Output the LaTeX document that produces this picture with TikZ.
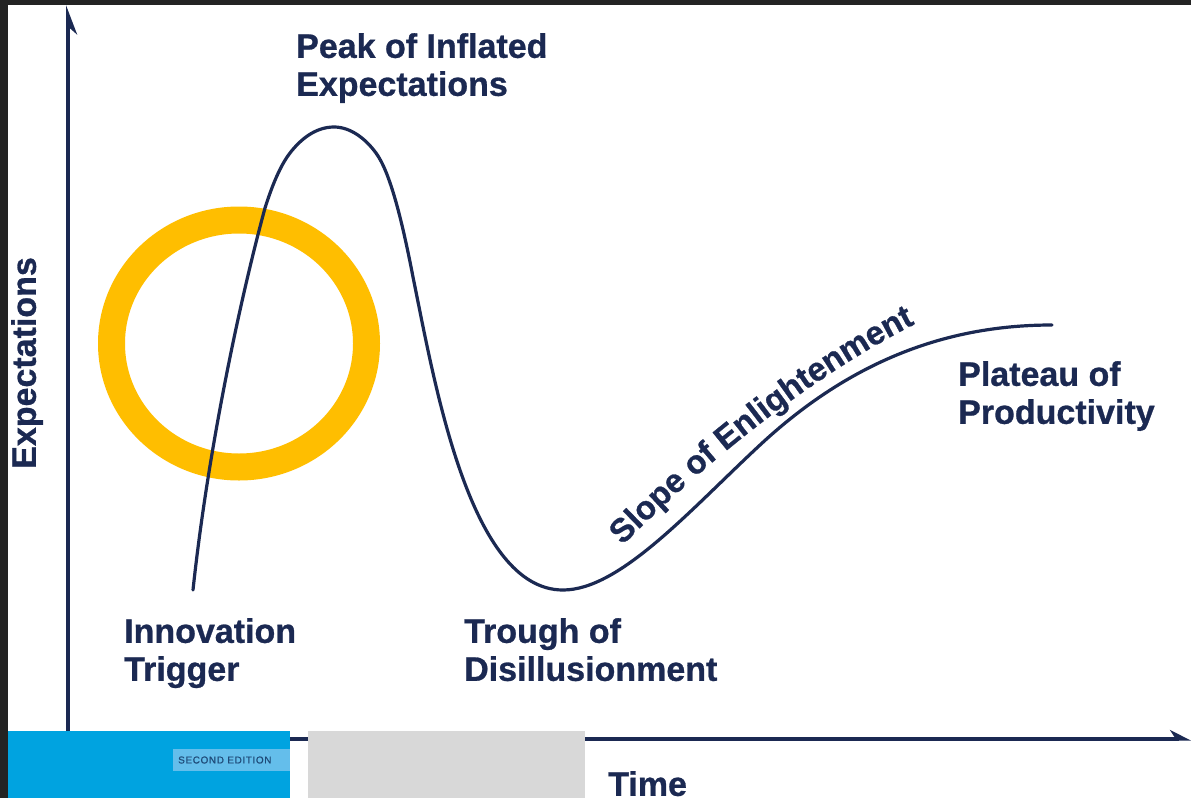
\documentclass[tikz,border=0pt]{standalone}
\usepackage{fontspec}
\setmainfont{Liberation Sans}
\newfontfamily\hypefont[FakeBold=0.8]{Liberation Sans}
\usepackage{xcolor}
\usetikzlibrary{arrows.meta,decorations.text}

\definecolor{hypenavy}{RGB}{27,41,82}
\definecolor{ringgold}{RGB}{255,190,0}
\definecolor{framedark}{RGB}{35,35,35}
\definecolor{coverblue}{RGB}{0,163,224}
\definecolor{editionblue}{RGB}{100,190,235}
\definecolor{editiontext}{RGB}{30,74,120}
\definecolor{covergrey}{RGB}{216,216,216}

\begin{document}
\begin{tikzpicture}[x=1pt,y=-1pt,
    phase/.style={inner sep=0pt, anchor=north west, align=left, text=hypenavy,
      font=\hypefont\bfseries\fontsize{34}{38}\selectfont},
    axis/.style={hypenavy, line width=4pt},
    hype/.style={hypenavy, line width=3.2pt, line cap=round}]
  \useasboundingbox (0,0) rectangle (1191,798);
  \fill[white] (0,0) rectangle (1191,798);
  % dark frame of the screenshot
  \fill[framedark] (0,0) rectangle (1191,5);
  \fill[framedark] (0,0) rectangle (8,798);

  % highlight ring
  \draw[ringgold, line width=27pt] (239,343.5) ellipse [x radius=127.5, y radius=123.5];

  % axes
  \coordinate (origin) at (68,739);
  \coordinate (ytop) at (68,5);
  \coordinate (xend) at (1191,739);
  \draw[axis, -{Stealth[right,length=24pt,width=18pt]}] (origin) -- (ytop);
  \draw[axis, -{Stealth[left,length=18pt,width=18pt]}] (origin) -- (xend);

  % covers at the bottom
  \fill[coverblue] (8,731) rectangle (290,798);
  \fill[editionblue] (173,749) rectangle (290,771);
  \node[inner sep=0pt, anchor=west, text=editiontext,
    font=\hypefont\fontsize{10}{10}\selectfont\addfontfeature{LetterSpace=6}]
    (edition) at (178,760) {SECOND EDITION};
  \fill[covergrey] (308,731) rectangle (585,798);

  % hype curve
  \draw[hype] (193,590) .. controls (208,450) and (240,300) .. (265,208)
    .. controls (272,186) and (280,166) .. (290,153)
    .. controls (300,140) and (315,127) .. (334,127)
    .. controls (350,127) and (365,138) .. (376,153)
    .. controls (390,172) and (402,220) .. (413,277)
    .. controls (435,385) and (470,590) .. (563,590)
    .. controls (620,590) and (690,510) .. (760,445)
    .. controls (860,352) and (960,325) .. (1052,325);

  % phases
  \node[phase] (peak) at (296,33) {Peak of Inflated\\Expectations};
  \node[phase] (trigger) at (124,618) {Innovation\\Trigger};
  \node[phase] (trough) at (464,618) {Trough of\\Disillusionment};
  \node[phase] (plateau) at (958,361) {Plateau of\\Productivity};
  \path[decorate, decoration={text along path, text align=center, text color=hypenavy,
      text={|\hypefont\bfseries\fontsize{33}{38}\selectfont|Slope of Enlightenment}}]
    (621,547) .. controls (690,477) and (800,382) .. (917,323);

  % axis labels
  \node[phase, rotate=90] (ylabel) at (11,469) {Expectations};
  \node[phase] (xlabel) at (608,771) {Time};
\end{tikzpicture}
\end{document}
